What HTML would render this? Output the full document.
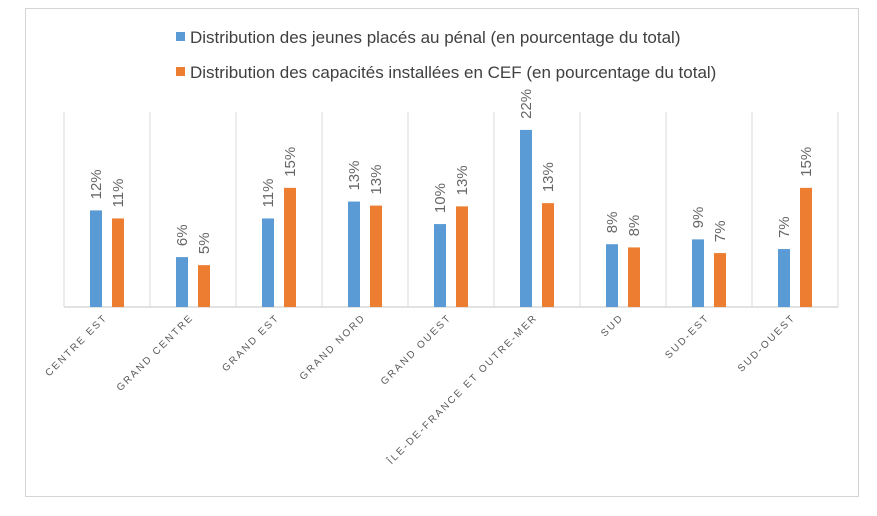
<!DOCTYPE html>
<html><head><meta charset="utf-8"><style>
body{margin:0;background:#fff;}
svg{display:block;font-family:"Liberation Sans",sans-serif;}
</style></head><body>
<svg width="877" height="516">
<rect x="25.5" y="8.5" width="833" height="488" fill="#fff" stroke="#d4d4d4"/>
<g>
<rect x="176" y="32" width="9" height="9" fill="#5b9bd5"/>
<text x="190" y="43" font-size="17" fill="#404040">Distribution des jeunes placés au pénal (en pourcentage du total)</text>
<rect x="176" y="67" width="9" height="9" fill="#ed7d31"/>
<text x="190" y="78" font-size="17" fill="#404040">Distribution des capacités installées en CEF (en pourcentage du total)</text>
</g>
<g id="plot"></g>
</svg>
<script>
const categories=["CENTRE EST","GRAND CENTRE","GRAND EST","GRAND NORD","GRAND OUEST","ÎLE-DE-FRANCE ET OUTRE-MER","SUD","SUD-EST","SUD-OUEST"];
const jeunes=[12.0,6.2,11.0,13.1,10.3,22.0,7.8,8.4,7.2];
const capacites=[11.0,5.2,14.8,12.6,12.5,12.9,7.4,6.7,14.8];
const jeunesLabels=["12%","6%","11%","13%","10%","22%","8%","9%","7%"];
const capLabels=["11%","5%","15%","13%","13%","13%","8%","7%","15%"];
const NS="http://www.w3.org/2000/svg";
const plotG=document.getElementById('plot');
const x0=64,bw=86,base=307,ppu=8.05,plotTop=112;
const yScale=v=>base-v*ppu;
function mk(t,a){const e=document.createElementNS(NS,t);for(const k in a)e.setAttribute(k,a[k]);plotG.appendChild(e);return e;}
for(let i=0;i<=categories.length;i++){
 const l=mk('line',{x1:x0+i*bw,x2:x0+i*bw,y1:plotTop,y2:base,stroke:'#d9d9d9'});
 
 
}
const ax=mk('line',{x1:x0,x2:x0+categories.length*bw,y1:base,y2:base,stroke:'#d9d9d9','stroke-width':1.5});


function bar(i,v,lab,off,col,nm){
 const bx=x0+i*bw+off;
 const r=mk('rect',{x:bx,y:yScale(v),width:12,height:base-yScale(v),fill:col});
 
 
 const tx=bx+6+5,ty=yScale(v)-11;
 const t=mk('text',{x:tx,y:ty,'font-size':15,fill:'#666','transform':`rotate(-90 ${tx} ${ty})`});
 t.textContent=lab;
 
 
}
categories.forEach((c,i)=>{
 bar(i,jeunes[i],jeunesLabels[i],26,'#5b9bd5','jeunes');
 bar(i,capacites[i],capLabels[i],48,'#ed7d31','capacites');
 const cx=x0+i*bw+bw/2+1,cy=318;
 const t=mk('text',{x:cx,y:cy,'font-size':10,fill:'#595959','letter-spacing':'2','text-anchor':'end',transform:`rotate(-45 ${cx} ${cy})`});
 t.textContent=c;
 
 
});
</script>
</body></html>
